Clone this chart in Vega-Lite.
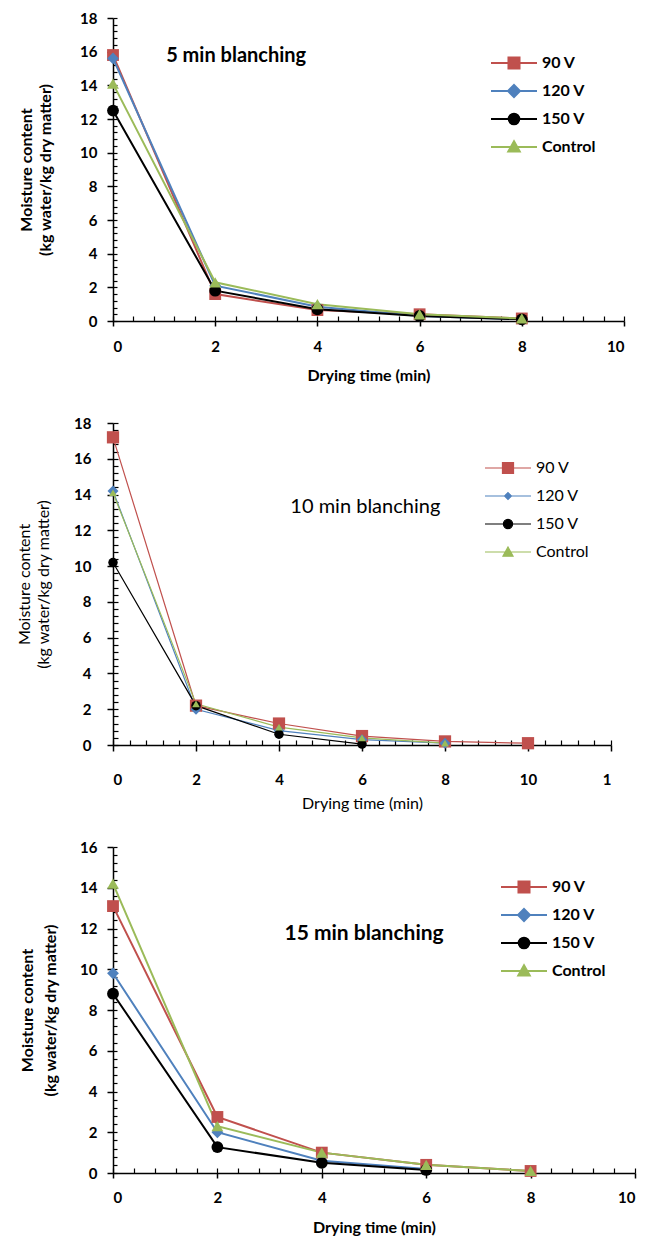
{
  "$schema": "https://vega.github.io/schema/vega-lite/v6.json",
  "padding": {"left": 16, "top": 11, "right": 5, "bottom": 5},
  "config": {"view": {"stroke": null}, "font": "Lato", "axis": {"grid": false}},
  "datasets": {
    "d5": [
      {"series": "90 V", "time": 0, "moisture": 15.8},
      {"series": "90 V", "time": 2, "moisture": 1.6},
      {"series": "90 V", "time": 4, "moisture": 0.65},
      {"series": "90 V", "time": 6, "moisture": 0.4},
      {"series": "90 V", "time": 8, "moisture": 0.15},
      {"series": "120 V", "time": 0, "moisture": 15.6},
      {"series": "120 V", "time": 2, "moisture": 2.1},
      {"series": "120 V", "time": 4, "moisture": 0.85},
      {"series": "120 V", "time": 6, "moisture": 0.3},
      {"series": "120 V", "time": 8, "moisture": 0.1},
      {"series": "150 V", "time": 0, "moisture": 12.5},
      {"series": "150 V", "time": 2, "moisture": 1.8},
      {"series": "150 V", "time": 4, "moisture": 0.7},
      {"series": "150 V", "time": 6, "moisture": 0.3},
      {"series": "150 V", "time": 8, "moisture": 0.1},
      {"series": "Control", "time": 0, "moisture": 14.1},
      {"series": "Control", "time": 2, "moisture": 2.3},
      {"series": "Control", "time": 4, "moisture": 1.0},
      {"series": "Control", "time": 6, "moisture": 0.4},
      {"series": "Control", "time": 8, "moisture": 0.15}
    ],
    "d10": [
      {"series": "90 V", "time": 0, "moisture": 17.2},
      {"series": "90 V", "time": 2, "moisture": 2.2},
      {"series": "90 V", "time": 4, "moisture": 1.2},
      {"series": "90 V", "time": 6, "moisture": 0.5},
      {"series": "90 V", "time": 8, "moisture": 0.2},
      {"series": "90 V", "time": 10, "moisture": 0.1},
      {"series": "120 V", "time": 0, "moisture": 14.2},
      {"series": "120 V", "time": 2, "moisture": 2.0},
      {"series": "120 V", "time": 4, "moisture": 0.8},
      {"series": "120 V", "time": 6, "moisture": 0.3},
      {"series": "120 V", "time": 8, "moisture": 0.1},
      {"series": "150 V", "time": 0, "moisture": 10.2},
      {"series": "150 V", "time": 2, "moisture": 2.2},
      {"series": "150 V", "time": 4, "moisture": 0.6},
      {"series": "150 V", "time": 6, "moisture": 0.05},
      {"series": "Control", "time": 0, "moisture": 14.1},
      {"series": "Control", "time": 2, "moisture": 2.3},
      {"series": "Control", "time": 4, "moisture": 1.0},
      {"series": "Control", "time": 6, "moisture": 0.4},
      {"series": "Control", "time": 8, "moisture": 0.1}
    ],
    "d15": [
      {"series": "90 V", "time": 0, "moisture": 13.1},
      {"series": "90 V", "time": 2, "moisture": 2.75},
      {"series": "90 V", "time": 4, "moisture": 1.0},
      {"series": "90 V", "time": 6, "moisture": 0.4},
      {"series": "90 V", "time": 8, "moisture": 0.1},
      {"series": "120 V", "time": 0, "moisture": 9.8},
      {"series": "120 V", "time": 2, "moisture": 2.0},
      {"series": "120 V", "time": 4, "moisture": 0.6},
      {"series": "120 V", "time": 6, "moisture": 0.2},
      {"series": "150 V", "time": 0, "moisture": 8.8},
      {"series": "150 V", "time": 2, "moisture": 1.27},
      {"series": "150 V", "time": 4, "moisture": 0.5},
      {"series": "150 V", "time": 6, "moisture": 0.15},
      {"series": "Control", "time": 0, "moisture": 14.2},
      {"series": "Control", "time": 2, "moisture": 2.3},
      {"series": "Control", "time": 4, "moisture": 1.0},
      {"series": "Control", "time": 6, "moisture": 0.4},
      {"series": "Control", "time": 8, "moisture": 0.1}
    ],
    "label5": [{"label": "5 min blanching"}],
    "label10": [{"label": "10 min blanching"}],
    "label15": [{"label": "15 min blanching"}]
  },
  "bounds": "flush",
  "spacing": 102,
  "vconcat": [
    {
      "width": 511,
      "height": 303,
      "resolve": {"axis": {"x": "independent", "y": "independent"}, "scale": {"shape": "independent", "fill": "independent", "stroke": "independent"}},
      "layer": [
        {
          "data": {"name": "d5"},
          "mark": {"type": "line", "strokeWidth": 2},
          "encoding": {
            "x": {"field": "time", "type": "quantitative", "scale": {"domain": [0, 10], "nice": false},
              "axis": {"orient": "bottom", "values": [0, 2, 4, 6, 8, 10], "tickSize": 5, "tickWidth": 1.5, "tickColor": "black", "domainColor": "black", "domainWidth": 1.5, "labelFontSize": 15, "labelFontWeight": "bold", "labelColor": "black", "labelPadding": 13, "title": "Drying time (min)", "titleFontSize": 16, "titleFontWeight": "bold", "titleColor": "black", "titlePadding": 13}},
            "y": {"field": "moisture", "type": "quantitative", "scale": {"domain": [0, 18], "nice": false},
              "axis": {"orient": "left", "values": [0, 2, 4, 6, 8, 10, 12, 14, 16, 18], "tickSize": 6, "tickWidth": 1.5, "tickColor": "black", "domainColor": "black", "domainWidth": 1.5, "labelFontSize": 15, "labelFontWeight": "bold", "labelColor": "black", "labelPadding": 10, "title": ["Moisture content", "(kg water/kg dry matter)"], "titleFontSize": 16, "titleFontWeight": "bold", "titleColor": "black", "titleLineHeight": 19, "titlePadding": 26}},
            "color": {"field": "series", "type": "nominal", "scale": {"domain": ["90 V", "120 V", "150 V", "Control"], "range": ["#C0504D", "#4F81BD", "#000000", "#9BBB59"]}, "legend": null}
          }
        },
        {
          "data": {"name": "d5"},
          "mark": {"type": "point", "filled": true, "size": 140, "opacity": 1},
          "encoding": {
            "x": {"field": "time", "type": "quantitative", "axis": null},
            "y": {"field": "moisture", "type": "quantitative", "axis": null},
            "color": {"field": "series", "type": "nominal", "legend": null},
            "shape": {"field": "series", "type": "nominal", "scale": {"domain": ["90 V", "120 V", "150 V", "Control"], "range": ["square", "diamond", "circle", "triangle-up"]}, "legend": null}
          }
        },
        {
          "data": {"name": "label5"},
          "mark": {"type": "text", "fontSize": 20, "fontWeight": "bold", "align": "center", "baseline": "middle", "color": "black"},
          "encoding": {
            "x": {"datum": 2.41, "type": "quantitative", "axis": {"orient": "bottom", "values": [0, 0.4, 0.8, 1.2, 1.6, 2, 2.4, 2.8, 3.2, 3.6, 4, 4.4, 4.8, 5.2, 5.6, 6, 6.4, 6.8, 7.2, 7.6, 8, 8.4, 8.8, 9.2, 9.6, 10], "tickSize": -5, "tickWidth": 1.2, "tickColor": "black", "labels": false, "domain": false, "title": null, "grid": false}},
            "y": {"datum": 15.75, "type": "quantitative", "axis": {"orient": "left", "values": [0, 0.4, 0.8, 1.2, 1.6, 2, 2.4, 2.8, 3.2, 3.6, 4, 4.4, 4.8, 5.2, 5.6, 6, 6.4, 6.8, 7.2, 7.6, 8, 8.4, 8.8, 9.2, 9.6, 10, 10.4, 10.8, 11.2, 11.6, 12, 12.4, 12.8, 13.2, 13.6, 14, 14.4, 14.8, 15.2, 15.6, 16, 16.4, 16.8, 17.2, 17.6, 18], "tickSize": -4, "tickWidth": 1.2, "tickColor": "black", "labels": false, "domain": false, "title": null, "grid": false}},
            "text": {"field": "label"}
          }
        },
        {
          "data": {"name": "d5"},
          "transform": [{"filter": "false"}],
          "mark": {"type": "point", "filled": true, "opacity": 1},
          "encoding": {
            "x": {"field": "time", "type": "quantitative", "axis": null},
            "y": {"field": "moisture", "type": "quantitative", "axis": null},
            "fill": {"field": "series", "type": "nominal", "scale": {"domain": ["90 V", "120 V", "150 V", "Control"], "range": ["#C0504D", "#4F81BD", "#000000", "#9BBB59"]},
              "legend": {"orient": "none", "legendX": 377, "legendY": 31, "title": null, "padding": 0, "clipHeight": 28, "symbolSize": 2116, "symbolStrokeWidth": 2, "symbolOpacity": 1, "labelFontSize": 16, "labelFontWeight": "bold", "labelColor": "black", "labelOffset": 4, "rowPadding": 0}},
            "stroke": {"field": "series", "type": "nominal", "scale": {"domain": ["90 V", "120 V", "150 V", "Control"], "range": ["#C0504D", "#4F81BD", "#000000", "#9BBB59"]}},
            "shape": {"field": "series", "type": "nominal", "scale": {"domain": ["90 V", "120 V", "150 V", "Control"], "range": ["M-1,0H1M-0.24,-0.24H0.24V0.24H-0.24Z", "M-1,0H1M0,-0.26L0.26,0L0,0.26L-0.26,0Z", "M-1,0H1M-0.23,0A0.23,0.23,0,1,0,0.23,0A0.23,0.23,0,1,0,-0.23,0Z", "M-1,0H1M0,-0.25L0.25,0.2L-0.25,0.2Z"]}}
          }
        }
      ]
    },
    {
      "width": 498,
      "height": 322,
      "resolve": {"axis": {"x": "independent", "y": "independent"}, "scale": {"shape": "independent", "fill": "independent", "stroke": "independent"}},
      "layer": [
        {
          "data": {"name": "d10"},
          "mark": {"type": "line", "strokeWidth": 1.2},
          "encoding": {
            "x": {"field": "time", "type": "quantitative", "scale": {"domain": [0, 12], "nice": false},
              "axis": {"orient": "bottom", "values": [0, 2, 4, 6, 8, 10, 12], "labelExpr": "datum.value == 12 ? '1' : datum.label", "tickSize": 6, "tickWidth": 1.5, "tickColor": "black", "domainColor": "black", "domainWidth": 1.5, "labelFontSize": 15, "labelFontWeight": "bold", "labelColor": "black", "labelPadding": 21, "title": "Drying time (min)", "titleFontSize": 16, "titleFontWeight": "normal", "titleColor": "black", "titlePadding": 8}},
            "y": {"field": "moisture", "type": "quantitative", "scale": {"domain": [0, 18], "nice": false},
              "axis": {"orient": "left", "values": [0, 2, 4, 6, 8, 10, 12, 14, 16, 18], "tickSize": 6, "tickWidth": 1.5, "tickColor": "black", "domainColor": "black", "domainWidth": 1.5, "labelFontSize": 15, "labelFontWeight": "bold", "labelColor": "black", "labelPadding": 16, "title": ["Moisture content", "(kg water/kg dry matter)"], "titleFontSize": 16, "titleFontWeight": "normal", "titleColor": "black", "titleLineHeight": 19, "titlePadding": 22}},
            "color": {"field": "series", "type": "nominal", "scale": {"domain": ["90 V", "120 V", "150 V", "Control"], "range": ["#C0504D", "#4F81BD", "#000000", "#9BBB59"]}, "legend": null}
          }
        },
        {
          "data": {"name": "d10"},
          "mark": {"type": "point", "filled": true, "opacity": 1},
          "encoding": {
            "x": {"field": "time", "type": "quantitative", "axis": null},
            "y": {"field": "moisture", "type": "quantitative", "axis": null},
            "color": {"field": "series", "type": "nominal", "legend": null},
            "shape": {"field": "series", "type": "nominal", "scale": {"domain": ["90 V", "120 V", "150 V", "Control"], "range": ["square", "diamond", "circle", "triangle-up"]}, "legend": null},
            "size": {"field": "series", "type": "nominal", "scale": {"domain": ["90 V", "120 V", "150 V", "Control"], "range": [150, 60, 130, 140]}, "legend": null}
          }
        },
        {
          "data": {"name": "label10"},
          "mark": {"type": "text", "fontSize": 20, "fontWeight": "normal", "align": "center", "baseline": "middle", "color": "black"},
          "encoding": {
            "x": {"datum": 6.08, "type": "quantitative", "axis": {"orient": "bottom", "values": [0, 0.4, 0.8, 1.2, 1.6, 2, 2.4, 2.8, 3.2, 3.6, 4, 4.4, 4.8, 5.2, 5.6, 6, 6.4, 6.8, 7.2, 7.6, 8, 8.4, 8.8, 9.2, 9.6, 10, 10.4, 10.8, 11.2, 11.6, 12], "tickSize": -5, "tickWidth": 1.2, "tickColor": "black", "labels": false, "domain": false, "title": null, "grid": false}},
            "y": {"datum": 13.3, "type": "quantitative", "axis": {"orient": "left", "values": [0, 0.4, 0.8, 1.2, 1.6, 2, 2.4, 2.8, 3.2, 3.6, 4, 4.4, 4.8, 5.2, 5.6, 6, 6.4, 6.8, 7.2, 7.6, 8, 8.4, 8.8, 9.2, 9.6, 10, 10.4, 10.8, 11.2, 11.6, 12, 12.4, 12.8, 13.2, 13.6, 14, 14.4, 14.8, 15.2, 15.6, 16, 16.4, 16.8, 17.2, 17.6, 18], "tickSize": -5, "tickWidth": 1.2, "tickColor": "black", "labels": false, "domain": false, "title": null, "grid": false}},
            "text": {"field": "label"}
          }
        },
        {
          "data": {"name": "d10"},
          "transform": [{"filter": "false"}],
          "mark": {"type": "point", "filled": true, "opacity": 1},
          "encoding": {
            "x": {"field": "time", "type": "quantitative", "axis": null},
            "y": {"field": "moisture", "type": "quantitative", "axis": null},
            "fill": {"field": "series", "type": "nominal", "scale": {"domain": ["90 V", "120 V", "150 V", "Control"], "range": ["#C0504D", "#4F81BD", "#000000", "#9BBB59"]},
              "legend": {"orient": "none", "legendX": 371, "legendY": 31, "title": null, "padding": 0, "clipHeight": 28, "symbolSize": 2116, "symbolStrokeWidth": 1.2, "symbolOpacity": 1, "labelFontSize": 16, "labelFontWeight": "normal", "labelColor": "black", "labelOffset": 4, "rowPadding": 0}},
            "stroke": {"field": "series", "type": "nominal", "scale": {"domain": ["90 V", "120 V", "150 V", "Control"], "range": ["#C0504D", "#4F81BD", "#000000", "#9BBB59"]}},
            "shape": {"field": "series", "type": "nominal", "scale": {"domain": ["90 V", "120 V", "150 V", "Control"], "range": ["M-1,0H1M-0.24,-0.24H0.24V0.24H-0.24Z", "M-1,0H1M0,-0.15L0.15,0L0,0.15L-0.15,0Z", "M-1,0H1M-0.2,0A0.2,0.2,0,1,0,0.2,0A0.2,0.2,0,1,0,-0.2,0Z", "M-1,0H1M0,-0.22L0.22,0.18L-0.22,0.18Z"]}}
          }
        }
      ]
    },
    {
      "width": 522,
      "height": 326,
      "resolve": {"axis": {"x": "independent", "y": "independent"}, "scale": {"shape": "independent", "fill": "independent", "stroke": "independent"}},
      "layer": [
        {
          "data": {"name": "d15"},
          "mark": {"type": "line", "strokeWidth": 2},
          "encoding": {
            "x": {"field": "time", "type": "quantitative", "scale": {"domain": [0, 10], "nice": false},
              "axis": {"orient": "bottom", "values": [0, 2, 4, 6, 8, 10], "tickSize": 5, "tickWidth": 1.5, "tickColor": "black", "domainColor": "black", "domainWidth": 1.5, "labelFontSize": 15, "labelFontWeight": "bold", "labelColor": "black", "labelPadding": 12, "title": "Drying time (min)", "titleFontSize": 16, "titleFontWeight": "bold", "titleColor": "black", "titlePadding": 14}},
            "y": {"field": "moisture", "type": "quantitative", "scale": {"domain": [0, 16], "nice": false},
              "axis": {"orient": "left", "values": [0, 2, 4, 6, 8, 10, 12, 14, 16], "tickSize": 6, "tickWidth": 1.5, "tickColor": "black", "domainColor": "black", "domainWidth": 1.5, "labelFontSize": 15, "labelFontWeight": "bold", "labelColor": "black", "labelPadding": 10, "title": ["Moisture content", "(kg water/kg dry matter)"], "titleFontSize": 16, "titleFontWeight": "bold", "titleColor": "black", "titleLineHeight": 23, "titlePadding": 21}},
            "color": {"field": "series", "type": "nominal", "scale": {"domain": ["90 V", "120 V", "150 V", "Control"], "range": ["#C0504D", "#4F81BD", "#000000", "#9BBB59"]}, "legend": null}
          }
        },
        {
          "data": {"name": "d15"},
          "mark": {"type": "point", "filled": true, "size": 140, "opacity": 1},
          "encoding": {
            "x": {"field": "time", "type": "quantitative", "axis": null},
            "y": {"field": "moisture", "type": "quantitative", "axis": null},
            "color": {"field": "series", "type": "nominal", "legend": null},
            "shape": {"field": "series", "type": "nominal", "scale": {"domain": ["90 V", "120 V", "150 V", "Control"], "range": ["square", "diamond", "circle", "triangle-up"]}, "legend": null}
          }
        },
        {
          "data": {"name": "label15"},
          "mark": {"type": "text", "fontSize": 21, "fontWeight": "bold", "align": "center", "baseline": "middle", "color": "black"},
          "encoding": {
            "x": {"datum": 4.81, "type": "quantitative", "axis": {"orient": "bottom", "values": [0, 0.4, 0.8, 1.2, 1.6, 2, 2.4, 2.8, 3.2, 3.6, 4, 4.4, 4.8, 5.2, 5.6, 6, 6.4, 6.8, 7.2, 7.6, 8, 8.4, 8.8, 9.2, 9.6, 10], "tickSize": -5, "tickWidth": 1.2, "tickColor": "black", "labels": false, "domain": false, "title": null, "grid": false}},
            "y": {"datum": 11.75, "type": "quantitative", "axis": {"orient": "left", "values": [0, 0.4, 0.8, 1.2, 1.6, 2, 2.4, 2.8, 3.2, 3.6, 4, 4.4, 4.8, 5.2, 5.6, 6, 6.4, 6.8, 7.2, 7.6, 8, 8.4, 8.8, 9.2, 9.6, 10, 10.4, 10.8, 11.2, 11.6, 12, 12.4, 12.8, 13.2, 13.6, 14, 14.4, 14.8, 15.2, 15.6, 16], "tickSize": -4, "tickWidth": 1.2, "tickColor": "black", "labels": false, "domain": false, "title": null, "grid": false}},
            "text": {"field": "label"}
          }
        },
        {
          "data": {"name": "d15"},
          "transform": [{"filter": "false"}],
          "mark": {"type": "point", "filled": true, "opacity": 1},
          "encoding": {
            "x": {"field": "time", "type": "quantitative", "axis": null},
            "y": {"field": "moisture", "type": "quantitative", "axis": null},
            "fill": {"field": "series", "type": "nominal", "scale": {"domain": ["90 V", "120 V", "150 V", "Control"], "range": ["#C0504D", "#4F81BD", "#000000", "#9BBB59"]},
              "legend": {"orient": "none", "legendX": 387, "legendY": 26, "title": null, "padding": 0, "clipHeight": 28, "symbolSize": 2116, "symbolStrokeWidth": 2, "symbolOpacity": 1, "labelFontSize": 16, "labelFontWeight": "bold", "labelColor": "black", "labelOffset": 4, "rowPadding": 0}},
            "stroke": {"field": "series", "type": "nominal", "scale": {"domain": ["90 V", "120 V", "150 V", "Control"], "range": ["#C0504D", "#4F81BD", "#000000", "#9BBB59"]}},
            "shape": {"field": "series", "type": "nominal", "scale": {"domain": ["90 V", "120 V", "150 V", "Control"], "range": ["M-1,0H1M-0.24,-0.24H0.24V0.24H-0.24Z", "M-1,0H1M0,-0.26L0.26,0L0,0.26L-0.26,0Z", "M-1,0H1M-0.23,0A0.23,0.23,0,1,0,0.23,0A0.23,0.23,0,1,0,-0.23,0Z", "M-1,0H1M0,-0.25L0.25,0.2L-0.25,0.2Z"]}}
          }
        }
      ]
    }
  ]
}
